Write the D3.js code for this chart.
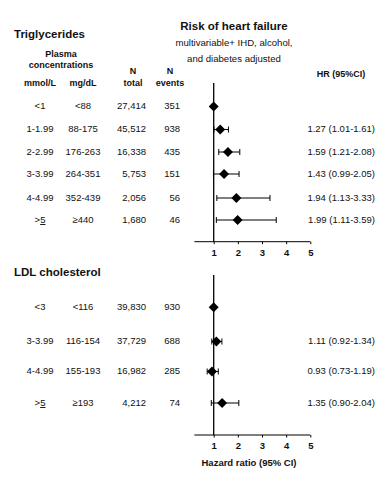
<!DOCTYPE html>
<html><head><meta charset="utf-8">
<script src="https://cdn.jsdelivr.net/npm/d3@7"></script>
<style>
body{margin:0;background:#fff;}
text{font-family:"Liberation Sans",Arial,sans-serif;fill:#111;}
</style></head><body>
<svg id="c" width="382" height="486"></svg>
<script>
// ---- data ----
const trigMmol = ["<1","1-1.99","2-2.99","3-3.99","4-4.99",">5"];
const trigMg = ["<88","88-175","176-263","264-351","352-439","≥440"];
const trigTotal = ["27,414","45,512","16,338","5,753","2,056","1,680"];
const trigEvents = ["351","938","435","151","56","46"];
const trigHR = [1, 1.27, 1.59, 1.43, 1.94, 1.99];
const trigLo = [null, 1.01, 1.21, 0.99, 1.13, 1.11];
const trigHi = [null, 1.61, 2.08, 2.05, 3.33, 3.59];
const trigLabel = ["", "1.27 (1.01-1.61)", "1.59 (1.21-2.08)", "1.43 (0.99-2.05)", "1.94 (1.13-3.33)", "1.99 (1.11-3.59)"];

const ldlMmol = ["<3","3-3.99","4-4.99",">5"];
const ldlMg = ["<116","116-154","155-193","≥193"];
const ldlTotal = ["39,830","37,729","16,982","4,212"];
const ldlEvents = ["930","688","285","74"];
const ldlHR = [1, 1.11, 0.93, 1.35];
const ldlLo = [null, 0.92, 0.73, 0.90];
const ldlHi = [null, 1.34, 1.19, 2.04];
const ldlLabel = ["", "1.11 (0.92-1.34)", "0.93 (0.73-1.19)", "1.35 (0.90-2.04)"];

const axisTicks = [1, 2, 3, 4, 5];

// ---- drawing ----
const svg = d3.select("#c");
const x = d3.scaleLinear().domain([1, 5]).range([213.7, 310.3]);
const axisStart = 0.2;

function txt(xp, yp, s, opts = {}) {
  return svg.append("text").attr("x", xp).attr("y", yp).text(s)
    .attr("font-size", opts.size || 9.5)
    .attr("font-weight", opts.bold ? "bold" : "normal")
    .attr("text-anchor", opts.anchor || "middle")
    .attr("dominant-baseline", "middle");
}

// headers
txt(14, 35, "Triglycerides", {size: 11.5, bold: true, anchor: "start"});
txt(61, 55, "Plasma", {size: 9, bold: true});
txt(61, 66, "concentrations", {size: 9, bold: true});
txt(133, 72, "N", {size: 9, bold: true});
txt(133, 84, "total", {size: 9, bold: true});
txt(170, 72, "N", {size: 9, bold: true});
txt(170, 84, "events", {size: 9, bold: true});
txt(40, 84, "mmol/L", {size: 9, bold: true});
txt(83, 84, "mg/dL", {size: 9, bold: true});
txt(234, 27, "Risk of heart failure", {size: 11.5, bold: true});
txt(234, 43, "multivariable+ IHD, alcohol,", {size: 9.6});
txt(234, 59, "and diabetes adjusted", {size: 9.6});
txt(341, 75, "HR (95%CI)", {size: 9, bold: true});
txt(14, 273, "LDL cholesterol", {size: 11.5, bold: true, anchor: "start"});

function mmolText(xp, yp, s) {
  if (s.startsWith(">")) {
    const t = svg.append("text").attr("x", xp).attr("y", yp)
      .attr("font-size", 9.5).attr("text-anchor", "middle").attr("dominant-baseline", "middle");
    t.append("tspan").text(">");
    t.append("tspan").text(s.slice(1)).attr("text-decoration", "underline");
  } else txt(xp, yp, s);
}

function panel(mmol, mg, total, events, hr, lo, hi, labels, rowY, lineTop, axisY) {
  rowY.forEach((yy, i) => {
    mmolText(40, yy, mmol[i]);
    txt(83, yy, mg[i]);
    txt(146, yy, total[i], {anchor: "end"});
    txt(180, yy, events[i], {anchor: "end"});
    if (labels[i]) txt(375, yy, labels[i], {anchor: "end"});
  });
  // reference line
  svg.append("line").attr("x1", x(1)).attr("x2", x(1)).attr("y1", lineTop).attr("y2", axisY)
    .attr("stroke", "#000").attr("stroke-width", 1.3);
  // axis
  const ax = d3.axisBottom(x).tickValues(axisTicks).tickFormat(d3.format("d")).tickSize(2.5).tickSizeOuter(0);
  const g = svg.append("g").attr("transform", `translate(0,${axisY})`).call(ax);
  g.select(".domain").remove();
  g.append("line").attr("x1", x(axisStart)).attr("x2", x(5)).attr("stroke", "#000").attr("stroke-width", 1);
  g.selectAll(".tick line").attr("stroke", "#000");
  g.selectAll(".tick text").attr("font-family", "Liberation Sans, Arial, sans-serif")
    .attr("font-weight", "bold").attr("font-size", 9.5).attr("fill", "#111").attr("dy", "0.9em");
  // error bars
  rowY.forEach((yy, i) => {
    if (lo[i] != null) {
      svg.append("line").attr("x1", x(lo[i])).attr("x2", x(hi[i])).attr("y1", yy).attr("y2", yy)
        .attr("stroke", "#000").attr("stroke-width", 1);
      [lo[i], hi[i]].forEach(v => svg.append("line").attr("x1", x(v)).attr("x2", x(v))
        .attr("y1", yy - 3).attr("y2", yy + 3).attr("stroke", "#000").attr("stroke-width", 1));
    }
    const cx = x(hr[i]);
    svg.append("path").attr("d", `M${cx},${yy - 5}L${cx + 5},${yy}L${cx},${yy + 5}L${cx - 5},${yy}Z`)
      .attr("fill", "#000");
  });
}

panel(trigMmol, trigMg, trigTotal, trigEvents, trigHR, trigLo, trigHi, trigLabel,
  [106.5, 129.5, 152, 174, 198, 220], 83, 241.7);
panel(ldlMmol, ldlMg, ldlTotal, ldlEvents, ldlHR, ldlLo, ldlHi, ldlLabel,
  [307.3, 341.5, 371.5, 403], 275, 435);

txt(249, 463, "Hazard ratio (95% CI)", {size: 9.5, bold: true});
</script>
</body></html>
